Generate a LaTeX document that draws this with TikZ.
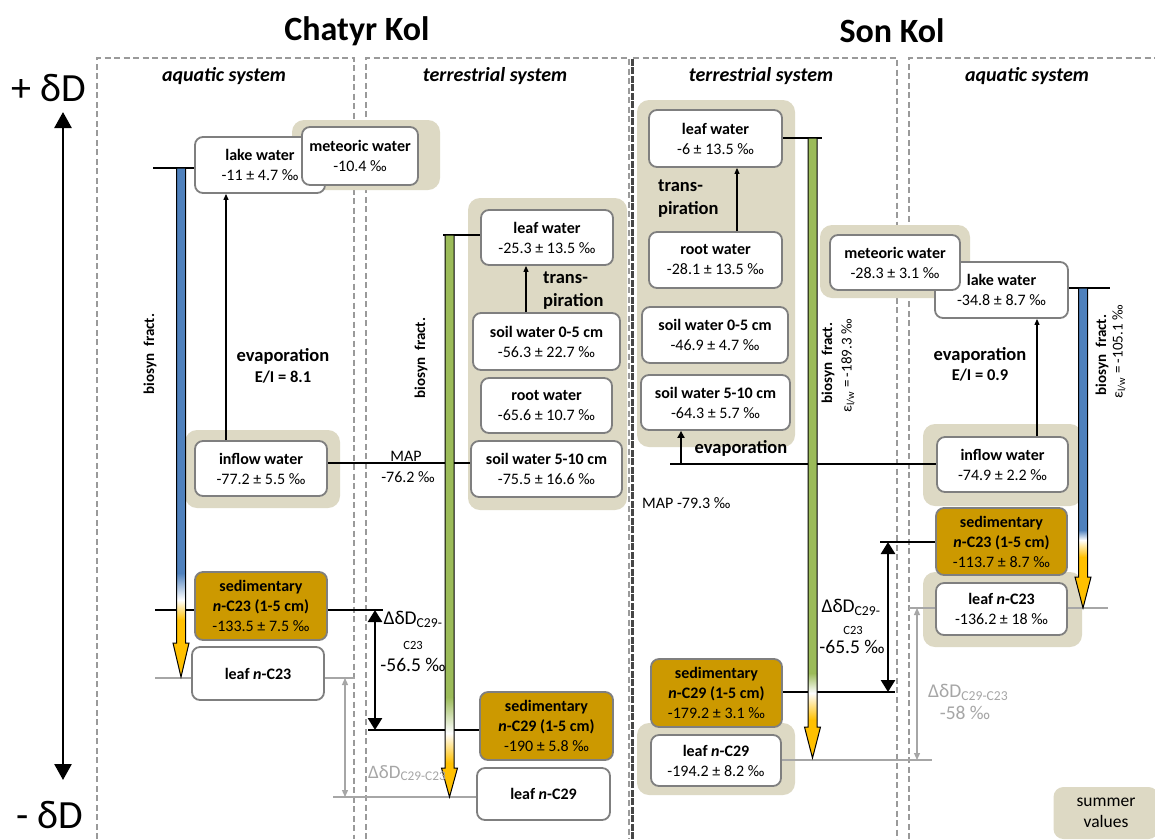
\documentclass[tikz,border=0pt]{standalone}
\usepackage{fontspec}
\setmainfont{Carlito}
\usetikzlibrary{arrows.meta}
\definecolor{beige}{HTML}{DDD9C4}
\definecolor{boxgray}{HTML}{7F7F7F}
\definecolor{sedcol}{HTML}{CC9900}
\definecolor{barblue}{HTML}{4F81BD}
\definecolor{bargreen}{HTML}{9BBB59}
\definecolor{barorange}{HTML}{FFC000}
\definecolor{dashgray}{HTML}{9A9A9A}
\definecolor{lgray}{HTML}{A6A6A6}
\pgfdeclarelayer{panellayer}
\pgfdeclarelayer{beigelayer}
\pgfdeclarelayer{linelayer}
\pgfdeclarelayer{barlayer}
\pgfsetlayers{panellayer,beigelayer,linelayer,barlayer,main}
\newcommand\fs[2]{\fontsize{#1}{#2}\selectfont}
\newcommand\mybx[2]{\textbf{#1}\\#2}
\newcommand\isobar[8]{%
 \fill[#8] (#1-4.5,#2) rectangle (#1+4.5,#3);
 \shade[top color=#8,bottom color=white] (#1-4.5,#3) rectangle (#1+4.5,#4);
 \shade[top color=white,bottom color=barorange] (#1-4.5,#4) rectangle (#1+4.5,#5);
 \fill[barorange] (#1-4.5,#5) rectangle (#1+4.5,#6);
 \fill[barorange] (#1-8,#6) -- (#1,#7) -- (#1+8,#6) -- cycle;
 \draw[line width=1pt, line join=miter] (#1-4.5,#2) -- (#1-4.5,#6) -- (#1-8,#6) -- (#1,#7) -- (#1+8,#6) -- (#1+4.5,#6) -- (#1+4.5,#2) -- cycle;
}
\begin{document}
\begin{tikzpicture}[x=1pt,y=-1pt,
 box/.style={draw=boxgray, line width=1.8pt, rounded corners=8pt, fill=white, align=center, inner sep=0pt, font=\fs{16}{20}},
 sedbox/.style={box, fill=sedcol},
 bgbox/.style={fill=beige, rounded corners=12pt},
 dashp/.style={draw=dashgray, line width=1.7pt, dash pattern=on 6pt off 3.5pt},
 darkdash/.style={draw=gray!55!black, line width=3pt, dash pattern=on 7pt off 1.5pt},
 conn/.style={draw=black, line width=1.2pt},
 grayconn/.style={draw=lgray, line width=1.4pt},
 thinarrow/.style={draw=black, line width=1.1pt, -{Triangle[length=6pt,width=5pt]}},
 medarrow/.style={draw=black, line width=2pt, -{Triangle[length=7pt,width=7pt]}},
 bigdarrow/.style={draw=black, line width=2.6pt, {Triangle[length=12pt,width=14pt]}-{Triangle[length=12pt,width=14pt]}},
 graydarrow/.style={draw=lgray, line width=1.2pt, {Triangle[length=7pt,width=6pt]}-{Triangle[length=7pt,width=6pt]}},
 axisarrow/.style={draw=black, line width=2.6pt, {Triangle[length=16pt,width=17pt]}-{Triangle[length=16pt,width=17pt]}},
 lbl/.style={font=\fs{16}{19}, inner sep=0pt},
 sys/.style={font=\bfseries\itshape\fs{20}{24}, inner sep=0pt},
 ttl/.style={font=\bfseries\fs{34}{40}, inner sep=0pt},
 evap/.style={font=\bfseries\fs{18.5}{23}, inner sep=0pt},
 eir/.style={font=\bfseries\fs{16.5}{20}, inner sep=0pt},
 bios/.style={font=\bfseries\fs{15}{18}, inner sep=0pt, rotate=90},
 epsl/.style={font=\fs{15}{18}, inner sep=0pt, rotate=90},
 dlbl/.style={font=\fs{19.5}{22}, inner sep=0pt},
 dsub/.style={font=\fs{12.5}{15}, inner sep=0pt},
]
\useasboundingbox (0,0) rectangle (1155,839);

% ---------------- panels
\begin{pgfonlayer}{panellayer}
\fill[white] (0,0) rectangle (1155,839);
\draw[dashp] (97,839) -- (97,58) -- (354,58) -- (354,839);
\draw[dashp] (366,839) -- (366,58) -- (629,58) -- (629,839);
\draw[dashp] (633,58) -- (897,58) -- (897,839);
\draw[darkdash] (632,839) -- (632,58);
\draw[dashp] (909,839) -- (909,58) -- (1160,58);
\end{pgfonlayer}

% ---------------- beige backgrounds
\begin{pgfonlayer}{beigelayer}
\fill[bgbox] (292,120) rectangle (440,190);
\fill[bgbox] (185,430) rectangle (340,508);
\fill[bgbox] (468,198) rectangle (627,510);
\fill[bgbox] (637,100) rectangle (795,447);
\fill[bgbox] (637,723) rectangle (795,795);
\fill[bgbox] (820,225) rectangle (970,298);
\fill[bgbox] (923,424) rectangle (1082,506);
\fill[bgbox] (923,572) rectangle (1082,647);
\end{pgfonlayer}

% ---------------- titles and axis
\node[ttl] (tC) at (357,31) {Chatyr Kol};
\node[ttl] (tS) at (892,31) {Son Kol};
\node[font=\fs{40}{46}, inner sep=0pt] (pD) at (49,88) {+ δD};
\node[font=\fs{40}{46}, inner sep=0pt] (mD) at (50,815) {- δD};
\coordinate (axT) at (63,112);
\coordinate (axB) at (63,780);
\draw[axisarrow] (axB) -- (axT);

\node[sys] (sys1) at (224,76) {aquatic system};
\node[sys] (sys2) at (495,76) {terrestrial system};
\node[sys] (sys3) at (761,76) {terrestrial system};
\node[sys] (sys4) at (1027,76) {aquatic system};

% ---------------- Chatyr Kol boxes
\node[box, minimum width=130, minimum height=56] (lakeC) at (260,165) {\mybx{lake water}{-11 ± 4.7 ‰}};
\node[box, minimum width=116, minimum height=58] (metC) at (360,156) {\mybx{meteoric water}{-10.4 ‰}};
\node[box, minimum width=132, minimum height=55] (inflowC) at (261,468.5) {\mybx{inflow water}{-77.2 ± 5.5 ‰}};
\node[sedbox, minimum width=132, minimum height=68] (sedC23) at (261,606) {\textbf{sedimentary}\\\textbf{\textit{n}-C23 (1-5 cm)}\\-133.5 ± 7.5 ‰};
\node[box, minimum width=132, minimum height=53] (leafC23) at (258,673.5) {\textbf{leaf \textit{n}-C23}};
\node[box, minimum width=132, minimum height=55] (leafwC) at (547,237.5) {\mybx{leaf water}{-25.3 ± 13.5 ‰}};
\node[box, minimum width=147, minimum height=57] (soil05C) at (546.5,341.5) {\mybx{soil water 0-5 cm}{-56.3 ± 22.7 ‰}};
\node[box, minimum width=131, minimum height=55] (rootC) at (546.5,405.5) {\mybx{root water}{-65.6 ± 10.7 ‰}};
\node[box, minimum width=151, minimum height=56] (soil510C) at (546.5,469) {\mybx{soil water 5-10 cm}{-75.5 ± 16.6 ‰}};
\node[sedbox, minimum width=133, minimum height=68] (sedC29) at (546.5,726) {\textbf{sedimentary}\\\textbf{\textit{n}-C29 (1-5 cm)}\\-190 ± 5.8 ‰};
\node[box, minimum width=133, minimum height=52] (leafC29) at (543.5,794) {\textbf{leaf \textit{n}-C29}};

% ---------------- Son Kol boxes
\node[box, minimum width=133, minimum height=57] (leafwS) at (715.5,138.5) {\mybx{leaf water}{-6 ± 13.5 ‰}};
\node[box, minimum width=133, minimum height=56] (rootS) at (715.5,260) {\mybx{root water}{-28.1 ± 13.5 ‰}};
\node[box, minimum width=146, minimum height=56] (soil05S) at (715,335) {\mybx{soil water 0-5 cm}{-46.9 ± 4.7 ‰}};
\node[box, minimum width=149, minimum height=55] (soil510S) at (715.5,402.5) {\mybx{soil water 5-10 cm}{-64.3 ± 5.7 ‰}};
\node[sedbox, minimum width=131, minimum height=68] (sedS29) at (716.5,693) {\textbf{sedimentary}\\\textbf{\textit{n}-C29 (1-5 cm)}\\-179.2 ± 3.1 ‰};
\node[box, minimum width=130, minimum height=51] (leafS29) at (716,760.5) {\mybx{leaf \textit{n}-C29}{-194.2 ± 8.2 ‰}};
\node[box, minimum width=133, minimum height=56] (lakeS) at (1001.5,290) {\mybx{lake water}{-34.8 ± 8.7 ‰}};
\node[box, minimum width=130, minimum height=55] (metS) at (895,262.5) {\mybx{meteoric water}{-28.3 ± 3.1 ‰}};
\node[box, minimum width=131, minimum height=55] (inflowS) at (1002.5,464.5) {\mybx{inflow water}{-74.9 ± 2.2 ‰}};
\node[sedbox, minimum width=131, minimum height=67] (sedS23) at (1001.5,541.5) {\textbf{sedimentary}\\\textbf{\textit{n}-C23 (1-5 cm)}\\-113.7 ± 8.7 ‰};
\node[box, minimum width=131, minimum height=52] (leafS23) at (1001.5,609) {\mybx{leaf \textit{n}-C23}{-136.2 ± 18 ‰}};

\node[fill=beige, rounded corners=10pt, minimum width=105, minimum height=52, align=center, inner sep=0pt, font=\fs{17.5}{21}] (summer) at (1106,813) {summer\\values};

% ---------------- connector lines
\begin{pgfonlayer}{linelayer}
\coordinate (cbT) at (153,168);
\draw[conn] (cbT) -- (lakeC.west |- cbT);
\coordinate (cgT) at (443,235);
\draw[conn] (cgT) -- (leafwC.west |- cgT);
\coordinate (sgT) at (822,138);
\draw[conn] (leafwS.east |- sgT) -- (sgT);
\coordinate (sbT) at (1110,288);
\draw[conn] (lakeS.east |- sbT) -- (sbT);
\coordinate (mapC) at (400,463);
\draw[conn] (inflowC.east |- mapC) -- (soil510C.west |- mapC);
\coordinate (mapS) at (670,464);
\draw[conn] (mapS) -- (inflowS.west |- mapS);
\coordinate (dCL) at (155,610);
\coordinate (dCtop) at (383,610);
\draw[conn] (dCL) -- (dCtop);
\coordinate (dCbot) at (368,730);
\draw[conn] (dCbot) -- (sedC29.west |- dCbot);
\coordinate (dSbot) at (895,692);
\draw[conn] (sedS29.east |- dSbot) -- (dSbot);
\coordinate (dStop) at (880,542);
\draw[conn] (dStop) -- (sedS23.west |- dStop);
\coordinate (gCtopL) at (155,678);
\coordinate (gCtopR) at (355,678);
\draw[grayconn] (gCtopL) -- (gCtopR);
\coordinate (gCbot) at (333,797);
\draw[grayconn] (gCbot) -- (leafC29.west |- gCbot);
\coordinate (gSbot) at (932,760);
\draw[grayconn] (leafS29.east |- gSbot) -- (gSbot);
\coordinate (gStopL) at (909,608);
\coordinate (gStopR) at (1108,608);
\draw[grayconn] (gStopL) -- (gStopR);
\end{pgfonlayer}

% ---------------- bars
\begin{pgfonlayer}{barlayer}
\isobar{181}{168}{573}{600}{620}{643}{677}{barblue}
\isobar{449.5}{235}{697}{733}{763}{768}{797}{bargreen}
\isobar{812.5}{138}{673}{693}{720}{727}{758}{bargreen}
\isobar{1083}{288}{530}{540}{557}{577}{608}{barblue}
\end{pgfonlayer}

% ---------------- arrows
\coordinate (evC) at (226,0);
\draw[thinarrow] (inflowC.north -| evC) -- (lakeC.south -| evC);
\coordinate (trC) at (526,0);
\draw[thinarrow] (soil05C.north -| trC) -- (leafwC.south -| trC);
\coordinate (trS) at (737,0);
\draw[thinarrow] (rootS.north -| trS) -- (leafwS.south -| trS);
\coordinate (evS) at (1037,0);
\draw[thinarrow] (inflowS.north -| evS) -- (lakeS.south -| evS);
\coordinate (evT) at (681,464);
\draw[medarrow] (evT) -- (soil510S.south -| evT);

\coordinate (aC) at (375,0);
\draw[bigdarrow] (dCtop -| aC) -- (dCbot -| aC);
\coordinate (aS) at (888,0);
\draw[bigdarrow] (dStop -| aS) -- (dSbot -| aS);
\coordinate (gaC) at (345,0);
\draw[graydarrow] (gCtopR -| gaC) -- (gCbot -| gaC);
\coordinate (gaS) at (917,0);
\draw[graydarrow] (gStopL -| gaS) -- (gSbot -| gaS);

% ---------------- labels
\node[evap] (evapC) at (283,356) {evaporation};
\node[eir] (eiC) at (283,377) {E/I = 8.1};
\node[evap] (evapS) at (980,355) {evaporation};
\node[eir] (eiS) at (980,375) {E/I = 0.9};
\node[evap] (evapT) at (741,448) {evaporation};
\node[evap, anchor=west, align=left] (trpC) at (543,290.5) {trans-\\piration};
\node[evap, anchor=west, align=left] (trpS) at (658,199) {trans-\\piration};

\node[bios] (bC1) at (150,354) {biosyn\ \ fract.};
\node[bios] (bC2) at (421,358) {biosyn\ \ fract.};
\node[bios] (bS1) at (828,363) {biosyn\ \ fract.};
\node[epsl] (eS1) at (848,366) {ε\textsubscript{l/w} = -189.3 ‰};
\node[bios] (bS2) at (1102,355) {biosyn\ \ fract.};
\node[epsl] (eS2) at (1119,352) {ε\textsubscript{l/w} = -105.1 ‰};

\node[lbl] (mapCt) at (406,456) {MAP};
\node[lbl] (mapCv) at (408,477) {-76.2 ‰};
\node[lbl, anchor=west] (mapSt) at (642,503) {MAP -79.3 ‰};

\node[dlbl] (dC1) at (413,619) {ΔδD\textsubscript{C29-}};
\node[dsub] (dC2) at (413,645) {C23};
\node[dlbl] (dC3) at (413,665) {-56.5 ‰};
\node[dlbl] (dS1) at (851,607) {ΔδD\textsubscript{C29-}};
\node[dsub] (dS2) at (853,630) {C23};
\node[dlbl] (dS3) at (852,647) {-65.5 ‰};
\node[dlbl, text=lgray, anchor=west, font=\fs{19}{22}] (gdC) at (368,773) {ΔδD\textsubscript{C29-C23}};
\node[dlbl, text=lgray, anchor=west] (gdS1) at (928,692) {ΔδD\textsubscript{C29-C23}};
\node[dlbl, text=lgray] (gdS2) at (965,713) {-58 ‰};
\end{tikzpicture}
\end{document}
